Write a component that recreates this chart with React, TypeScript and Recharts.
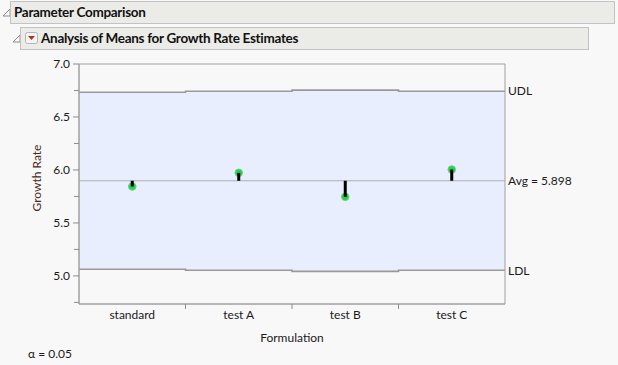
import React from 'react'
import {
    ComposedChart,
    Area,
    Scatter,
    XAxis,
    YAxis,
    ReferenceLine,
    ReferenceArea,
    ReferenceDot,
} from 'recharts'

const categories = ['standard', 'test A', 'test B', 'test C']
const means = [5.844, 5.973, 5.746, 6.004]
const udl = [6.733, 6.743, 6.753, 6.743]
const ldl = [5.063, 5.053, 5.043, 5.053]
const avg = 5.898
const yTicks = [4.75, 5, 5.25, 5.5, 5.75, 6, 6.25, 6.5, 6.75, 7]
const xTicks = [0, 0.5, 1, 1.5, 2, 2.5, 3, 3.5, 4]
const yMin = 4.735
const yMax = 7

const font = 'Lato, "Open Sans", sans-serif'
const textColor = '#1a1a1a'

// step data for the decision limits: one point per band edge
const limitData = categories
    .map((_, i) => ({ x: i, band: [ldl[i], udl[i]] }))
    .concat([{ x: categories.length, band: [ldl[ldl.length - 1], udl[udl.length - 1]] }])

const pointData = categories.map((c, i) => ({ x: i + 0.5, y: means[i], name: c }))

const YTick = (props: any) => {
    const { x, y, payload } = props
    const v = payload.value
    const major = Number.isInteger(v * 2)
    return (
        <g>
            <line x1={x - (major ? 6 : 5)} x2={x} y1={y} y2={y} stroke="#8c8c8c" />
            {major && (
                <text x={x - 9} y={y + 4} textAnchor="end" fontSize={12} fill={textColor} fontFamily={font}>
                    {v.toFixed(1)}
                </text>
            )}
        </g>
    )
}

const XTick = (props: any) => {
    const { x, y, payload } = props
    const v = payload.value
    if (Number.isInteger(v)) {
        if (v <= 0 || v >= categories.length) return <g />
        return <line x1={x} x2={x} y1={y} y2={y + 5} stroke="#8c8c8c" />
    }
    return (
        <text x={x} y={y + 15} textAnchor="middle" fontSize={12} fill={textColor} fontFamily={font}>
            {categories[Math.floor(v)]}
        </text>
    )
}

const DisclosureIcon = () => (
    <svg width={9} height={9} style={{ position: 'absolute' }}>
        <polygon points="8,1 8,8 1,8" fill="#fff" stroke="#8a8a8a" />
    </svg>
)

const labelStyle = { fontSize: 12, fill: textColor, fontFamily: font }

const App = () => {
    return (
        <div
            style={{
                position: 'fixed',
                left: 0,
                top: 0,
                width: 618,
                height: 365,
                background: '#F8F8F8',
                fontFamily: font,
                overflow: 'hidden',
            }}
        >
            <div style={{ position: 'absolute', left: 0, top: 0 }}>
                <ComposedChart
                    width={618}
                    height={365}
                    data={limitData}
                    margin={{ top: 64, right: 113, bottom: 31, left: 0 }}
                >
                    <XAxis
                        type="number"
                        dataKey="x"
                        domain={[0, 4]}
                        ticks={xTicks}
                        interval={0}
                        tickLine={false}
                        tickSize={0}
                        tickMargin={0}
                        tick={<XTick />}
                        height={30}
                        axisLine={{ stroke: '#a0a0a0' }}
                        label={{ value: 'Formulation', position: 'insideBottom', offset: -8, ...labelStyle }}
                    />
                    <YAxis
                        type="number"
                        domain={[yMin, yMax]}
                        ticks={yTicks}
                        interval={0}
                        width={79}
                        tickLine={false}
                        tickSize={0}
                        tickMargin={0}
                        tick={<YTick />}
                        axisLine={{ stroke: '#a0a0a0' }}
                        allowDataOverflow
                        label={{
                            value: 'Growth Rate',
                            angle: -90,
                            position: 'center',
                            dx: -3,
                            dy: -6,
                            ...labelStyle,
                            fill: '#4a2a20',
                        }}
                    />
                    <Area
                        type="stepAfter"
                        dataKey="band"
                        fill="#E8EEFD"
                        fillOpacity={1}
                        stroke="#999"
                        strokeWidth={1.6}
                        isAnimationActive={false}
                        dot={false}
                        activeDot={false}
                    />
                    <ReferenceLine
                        y={avg}
                        stroke="#b0b0b0"
                        strokeWidth={1}
                        label={{ value: 'Avg = 5.898', position: 'right', offset: 3, ...labelStyle }}
                    />
                    <ReferenceDot
                        x={categories.length}
                        y={udl[udl.length - 1]}
                        r={0}
                        stroke="none"
                        label={{ value: 'UDL', position: 'right', offset: 3, ...labelStyle }}
                    />
                    <ReferenceDot
                        x={categories.length}
                        y={ldl[ldl.length - 1]}
                        r={0}
                        stroke="none"
                        label={{ value: 'LDL', position: 'right', offset: 3, ...labelStyle }}
                    />
                    <Scatter
                        data={pointData}
                        dataKey="y"
                        fill="#2ECC4E"
                        shape={(p: any) => <circle cx={p.cx} cy={p.cy} r={3.8} fill="#2ECC4E" stroke="#6ad684" />}
                        isAnimationActive={false}
                    />
                    {pointData.map((d) => (
                        <ReferenceLine
                            key={d.name}
                            segment={[
                                { x: d.x, y: avg },
                                { x: d.x, y: d.y },
                            ]}
                            stroke="#000"
                            strokeWidth={3}
                            zIndex={700}
                        />
                    ))}
                    <ReferenceArea
                        x1={0}
                        x2={categories.length}
                        y1={yMin}
                        y2={yMax}
                        fill="none"
                        stroke="#a0a0a0"
                        strokeWidth={1}
                    />
                </ComposedChart>
            </div>

            <div style={{ position: 'absolute', left: 2, top: 8 }}>
                <DisclosureIcon />
            </div>
            <div
                style={{
                    position: 'absolute',
                    left: 10,
                    top: 1,
                    width: 605,
                    height: 23,
                    boxSizing: 'border-box',
                    background: '#EBEBE7',
                    border: '1px solid #C2C2C2',
                    fontWeight: 'bold',
                    fontSize: 13.5,
                    letterSpacing: -0.3,
                    lineHeight: '21px',
                    paddingLeft: 3,
                    color: '#111',
                }}
            >
                Parameter Comparison
            </div>
            <div style={{ position: 'absolute', left: 12, top: 34 }}>
                <DisclosureIcon />
            </div>
            <div
                style={{
                    position: 'absolute',
                    left: 20,
                    top: 27,
                    width: 569,
                    height: 23,
                    boxSizing: 'border-box',
                    background: '#EBEBE7',
                    border: '1px solid #C2C2C2',
                    fontWeight: 'bold',
                    fontSize: 13.5,
                    letterSpacing: -0.3,
                    lineHeight: '21px',
                    paddingLeft: 20,
                    color: '#111',
                }}
            >
                <svg width={13} height={12} style={{ position: 'absolute', left: 4, top: 4 }}>
                    <rect x={0.5} y={0.5} width={12} height={11} rx={2} fill="#f4f4f4" stroke="#b5b5b5" />
                    <polygon points="3,4 10,4 6.5,8" fill="#b0302a" />
                </svg>
                Analysis of Means for Growth Rate Estimates
            </div>
            <div style={{ position: 'absolute', left: 28, top: 346, fontSize: 12, color: textColor }}>α = 0.05</div>
        </div>
    )
}

export default App
